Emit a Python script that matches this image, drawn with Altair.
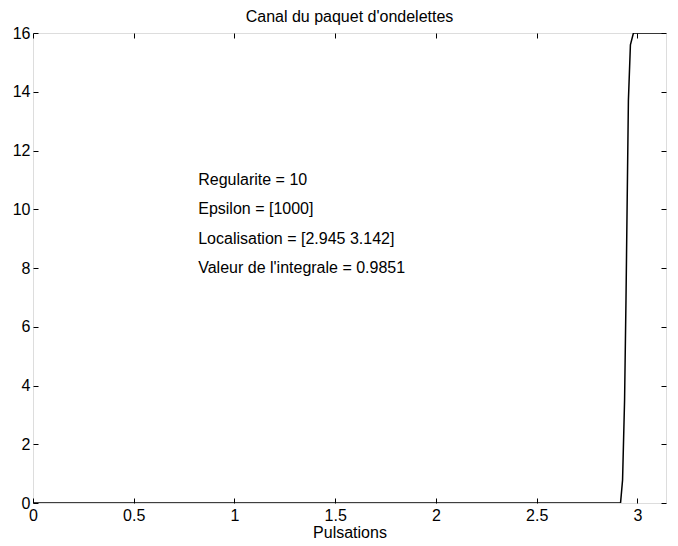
import altair as alt
import pandas as pd

# Curve
puls = [0.0, 2.916, 2.926, 2.936, 2.943, 2.955, 2.965, 2.980, 3.1416]
gain = [0.0, 0.0, 0.78, 3.5, 6.9, 13.7, 15.6, 16.0, 16.0]

# Annotation texts
ann_text = ["Regularite = 10", "Epsilon = [1000]",
            "Localisation = [2.945 3.142]", "Valeur de l'integrale = 0.9851"]
ann_x = [0.82, 0.82, 0.82, 0.82]
ann_y = [11, 10, 9, 8]

x_ticks = [0, 0.5, 1, 1.5, 2, 2.5, 3]
y_ticks = [0, 2, 4, 6, 8, 10, 12, 14, 16]

curve = pd.DataFrame({"x": puls, "y": gain})
ann = pd.DataFrame({"x": ann_x, "y": ann_y, "t": ann_text})

FONT = "Liberation Sans"
xs = alt.Scale(domain=[0, 3.1416], nice=False, zero=False)
ys = alt.Scale(domain=[0, 16], nice=False)

common = dict(grid=False, domain=False, tickColor="black", tickSize=5,
              tickWidth=1, offset=-5, labelColor="black", labelFont=FONT,
              labelFontSize=16, format="~g")

line = alt.Chart(curve).mark_line(color="black", strokeWidth=1.5, clip=True).encode(
    x=alt.X("x:Q", scale=xs, title="Pulsations",
            axis=alt.Axis(values=x_ticks, labelPadding=4, titleFont=FONT,
                          titleFontSize=16, titleFontWeight="normal",
                          titleColor="black", titlePadding=1, labelFlush=False,
                          **common)),
    y=alt.Y("y:Q", scale=ys, title=None,
            axis=alt.Axis(values=y_ticks, labelPadding=3, labelFlush=False,
                          **common)),
)

frame_ticks = alt.Chart(curve).mark_line(opacity=0).encode(
    x=alt.X("x:Q", scale=xs, title=None,
            axis=alt.Axis(orient="top", values=x_ticks, labels=False, **common)),
    y=alt.Y("y:Q", scale=ys, title=None,
            axis=alt.Axis(orient="right", values=y_ticks, labels=False, **common)),
)

texts = alt.Chart(ann).mark_text(align="left", baseline="middle", font=FONT,
                                 fontSize=16, color="black").encode(
    x=alt.X("x:Q", scale=xs, axis=None),
    y=alt.Y("y:Q", scale=ys, axis=None),
    text="t:N",
)

chart = alt.layer(line, frame_ticks, texts).resolve_axis(
    x="independent", y="independent"
).properties(
    width=633, height=470,
    title=alt.TitleParams("Canal du paquet d'ondelettes", font=FONT, fontSize=16,
                          fontWeight="normal", color="black", offset=0),
    autosize=alt.AutoSizeParams(type="none"),
    padding={"left": 25, "top": 25, "right": 4, "bottom": 38},
).configure_view(stroke="black", strokeWidth=1.5).configure(background="white")

chart.save("out.html", embed_options={"renderer": "svg", "actions": False})
